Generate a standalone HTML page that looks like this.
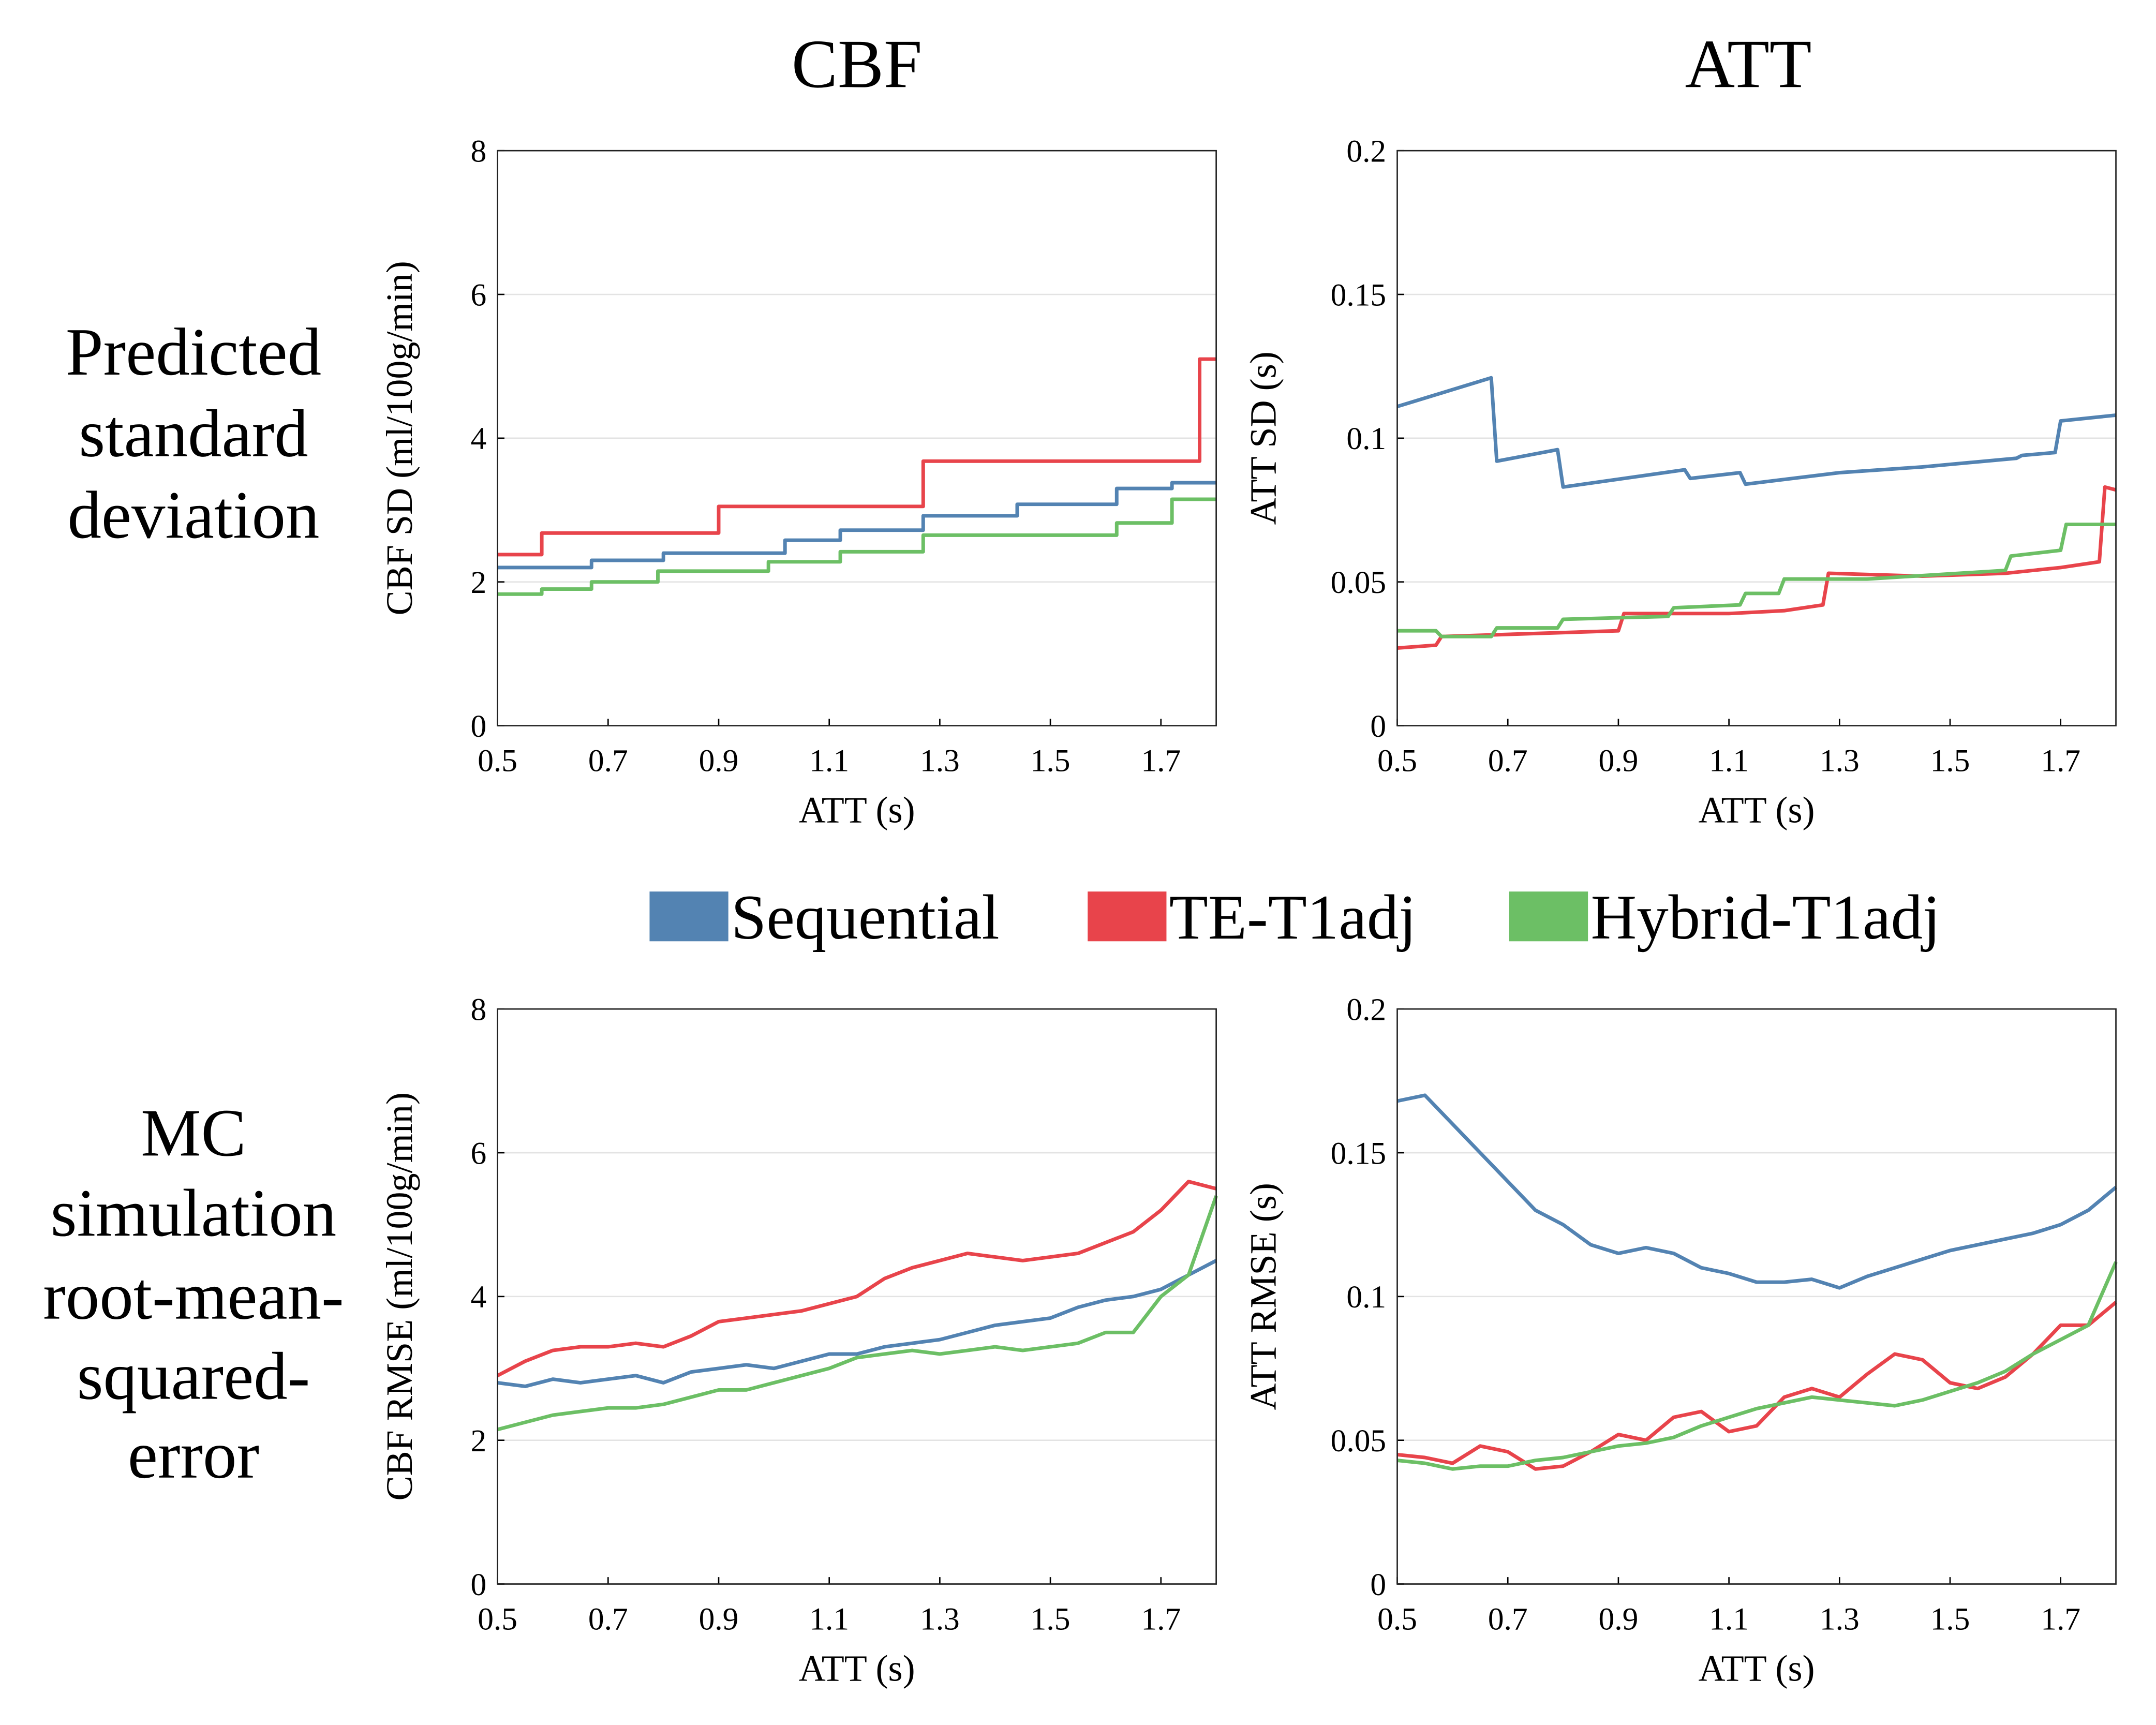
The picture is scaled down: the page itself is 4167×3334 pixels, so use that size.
<!DOCTYPE html>
<html><head><meta charset="utf-8"><style>
html,body{margin:0;padding:0;background:#fff;}
svg{display:block;font-family:"Liberation Serif",serif;}
</style></head><body>
<svg id="fig" width="4167" height="3334" viewBox="0 0 1560 1248" preserveAspectRatio="none">
<rect width="1560" height="1248" fill="#fff"/>
<text x="620" y="63" font-size="50" text-anchor="middle">CBF</text>
<text x="1265" y="63" font-size="50" text-anchor="middle">ATT</text>
<g font-size="49" text-anchor="middle">
<text x="140" y="271">Predicted</text><text x="140" y="330">standard</text><text x="140" y="389">deviation</text></g>
<g font-size="49" text-anchor="middle">
<text x="140" y="836">MC</text><text x="140" y="894">simulation</text><text x="140" y="954">root-mean-</text><text x="140" y="1012">squared-</text><text x="140" y="1069">error</text></g>
<g font-size="46">
<rect x="470" y="645" width="57" height="36" fill="#5383b2"/>
<text x="529" y="679">Sequential</text>
<rect x="787" y="645" width="57" height="36" fill="#e8444b"/>
<text x="846" y="679">TE-T1adj</text>
<rect x="1092" y="645" width="57" height="36" fill="#6cbf65"/>
<text x="1151" y="679">Hybrid-T1adj</text>
</g>
<g id="plots"></g>
</svg>
<script>
const xTicks=[0.5,0.7,0.9,1.1,1.3,1.5,1.7];
const cbfTicks=[0,2,4,6,8];
const attTicks=[0,0.05,0.1,0.15,0.2];
const attTickLabels=["0","0.05","0.1","0.15","0.2"];
// Top-left: CBF SD steps
const tlSeqX=[0.5,0.67,0.67,0.8,0.8,1.02,1.02,1.12,1.12,1.27,1.27,1.44,1.44,1.62,1.62,1.72,1.72,1.8];
const tlSeqY=[2.2,2.2,2.3,2.3,2.4,2.4,2.58,2.58,2.72,2.72,2.92,2.92,3.08,3.08,3.3,3.3,3.38,3.38];
const tlTeX=[0.5,0.58,0.58,0.9,0.9,1.27,1.27,1.77,1.77,1.8];
const tlTeY=[2.38,2.38,2.68,2.68,3.05,3.05,3.68,3.68,5.1,5.1];
const tlHyX=[0.5,0.58,0.58,0.67,0.67,0.79,0.79,0.99,0.99,1.12,1.12,1.27,1.27,1.62,1.62,1.72,1.72,1.8];
const tlHyY=[1.83,1.83,1.9,1.9,2.0,2.0,2.15,2.15,2.28,2.28,2.42,2.42,2.65,2.65,2.82,2.82,3.15,3.15];
// Top-right: ATT SD
const trSeqX=[0.5,0.67,0.68,0.79,0.8,1.02,1.03,1.12,1.13,1.3,1.45,1.62,1.63,1.69,1.7,1.8];
const trSeqY=[0.111,0.121,0.092,0.096,0.083,0.089,0.086,0.088,0.084,0.088,0.090,0.093,0.094,0.095,0.106,0.108];
const trTeX=[0.5,0.57,0.58,0.9,0.91,1.1,1.2,1.27,1.28,1.45,1.6,1.7,1.77,1.78,1.8];
const trTeY=[0.027,0.028,0.031,0.033,0.039,0.039,0.040,0.042,0.053,0.052,0.053,0.055,0.057,0.083,0.082];
const trHyX=[0.5,0.57,0.58,0.67,0.68,0.79,0.8,0.99,1.0,1.12,1.13,1.19,1.2,1.35,1.6,1.61,1.7,1.71,1.8];
const trHyY=[0.033,0.033,0.031,0.031,0.034,0.034,0.037,0.038,0.041,0.042,0.046,0.046,0.051,0.051,0.054,0.059,0.061,0.070,0.070];
// Bottom: x = 0.5..1.8 step 0.05
const blSeq=[2.8,2.75,2.85,2.8,2.85,2.9,2.8,2.95,3.0,3.05,3.0,3.1,3.2,3.2,3.3,3.35,3.4,3.5,3.6,3.65,3.7,3.85,3.95,4.0,4.1,4.3,4.5];
const blTe=[2.9,3.1,3.25,3.3,3.3,3.35,3.3,3.45,3.65,3.7,3.75,3.8,3.9,4.0,4.25,4.4,4.5,4.6,4.55,4.5,4.55,4.6,4.75,4.9,5.2,5.6,5.5];
const blHy=[2.15,2.25,2.35,2.4,2.45,2.45,2.5,2.6,2.7,2.7,2.8,2.9,3.0,3.15,3.2,3.25,3.2,3.25,3.3,3.25,3.3,3.35,3.5,3.5,4.0,4.3,5.4];
const brSeq=[0.168,0.17,0.16,0.15,0.14,0.13,0.125,0.118,0.115,0.117,0.115,0.11,0.108,0.105,0.105,0.106,0.103,0.107,0.11,0.113,0.116,0.118,0.12,0.122,0.125,0.13,0.138];
const brTe=[0.045,0.044,0.042,0.048,0.046,0.04,0.041,0.046,0.052,0.05,0.058,0.06,0.053,0.055,0.065,0.068,0.065,0.073,0.08,0.078,0.07,0.068,0.072,0.08,0.09,0.09,0.098];
const brHy=[0.043,0.042,0.04,0.041,0.041,0.043,0.044,0.046,0.048,0.049,0.051,0.055,0.058,0.061,0.063,0.065,0.064,0.063,0.062,0.064,0.067,0.07,0.074,0.08,0.085,0.09,0.112];
const bottomX=blSeq.map((_,i)=>0.5+0.05*i);

const NS="http://www.w3.org/2000/svg";
const root=document.getElementById('plots');
const COL={seq:"#5383b2",te:"#e8444b",hy:"#6cbf65"};
function mk(tag,attrs,parent){const e=document.createElementNS(NS,tag);for(const k in attrs)e.setAttribute(k,attrs[k]);parent.appendChild(e);return e;}

function plot(name,x0,y0,x1,y1,ymax,yt,ytl,ylabel,series){
  const g=mk('g',{},root);
  
  
  const sx=v=>x0+(v-0.5)/(1.8-0.5)*(x1-x0);
  const sy=v=>y1-v/ymax*(y1-y0);
  yt.forEach((t,i)=>{
    if(t>0&&t<ymax){const gl=mk('line',{x1:x0,x2:x1,y1:sy(t),y2:sy(t),stroke:"#e3e3e3","stroke-width":1},g);
      
      }
    const tl=mk('text',{x:x0-8,y:sy(t)+8,"font-size":23,"text-anchor":"end"},g);
    
    
    tl.textContent=ytl[i];
    mk('line',{x1:x0,x2:x0+5,y1:sy(t),y2:sy(t),stroke:"#000","stroke-width":1},g);
  });
  xTicks.forEach(t=>{
    const tl=mk('text',{x:sx(t),y:y1+33,"font-size":23,"text-anchor":"middle"},g);
    
    
    tl.textContent=t.toFixed(1);
    mk('line',{x1:sx(t),x2:sx(t),y1:y1,y2:y1-5,stroke:"#000","stroke-width":1},g);
  });
  series.forEach(s=>{
    const d=s.x.map((v,i)=>(i?'L':'M')+sx(v).toFixed(2)+','+sy(s.y[i]).toFixed(2)).join('');
    const p=mk('path',{d:d,fill:"none",stroke:s.c,"stroke-width":2.6,"stroke-linejoin":"round"},g);
    
    
  });
  const box=mk('rect',{x:x0,y:y0,width:x1-x0,height:y1-y0,fill:"none",stroke:"#222","stroke-width":1},g);
  
  
  const xl=mk('text',{x:(x0+x1)/2,y:y1+70,"font-size":27,"text-anchor":"middle"},g);
  
  
  xl.textContent="ATT (s)";
  const lx=x0-(ymax>1?62:88), ly=(y0+y1)/2;
  const yl=mk('text',{x:lx,y:ly,"font-size":27,"text-anchor":"middle",transform:`rotate(-90 ${lx} ${ly})`},g);
  
  
  yl.textContent=ylabel;
}
const cbfL=cbfTicks.map(String);
plot('cbf-sd-chart',360,109,880,525,8,cbfTicks,cbfL,"CBF SD (ml/100g/min)",[
 {x:tlSeqX,y:tlSeqY,c:COL.seq,n:'line-sequential'},{x:tlTeX,y:tlTeY,c:COL.te,n:'line-te-t1adj'},{x:tlHyX,y:tlHyY,c:COL.hy,n:'line-hybrid-t1adj'}]);
plot('att-sd-chart',1011,109,1531,525,0.2,attTicks,attTickLabels,"ATT SD (s)",[
 {x:trSeqX,y:trSeqY,c:COL.seq,n:'line-sequential'},{x:trTeX,y:trTeY,c:COL.te,n:'line-te-t1adj'},{x:trHyX,y:trHyY,c:COL.hy,n:'line-hybrid-t1adj'}]);
plot('cbf-rmse-chart',360,730,880,1146,8,cbfTicks,cbfL,"CBF RMSE (ml/100g/min)",[
 {x:bottomX,y:blSeq,c:COL.seq,n:'line-sequential'},{x:bottomX,y:blTe,c:COL.te,n:'line-te-t1adj'},{x:bottomX,y:blHy,c:COL.hy,n:'line-hybrid-t1adj'}]);
plot('att-rmse-chart',1011,730,1531,1146,0.2,attTicks,attTickLabels,"ATT RMSE (s)",[
 {x:bottomX,y:brSeq,c:COL.seq,n:'line-sequential'},{x:bottomX,y:brTe,c:COL.te,n:'line-te-t1adj'},{x:bottomX,y:brHy,c:COL.hy,n:'line-hybrid-t1adj'}]);
</script>
</body></html>
